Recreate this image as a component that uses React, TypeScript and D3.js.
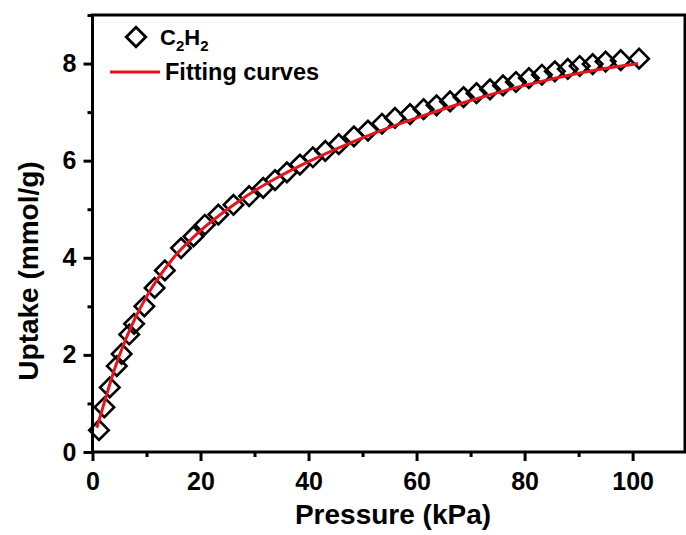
import { useEffect, useRef } from 'react';
import * as d3 from 'd3';

// measured C2H2 uptake points (kPa, mmol/g)
const pressure = [
  1.2, 2.2, 3.2, 4.5, 5.4, 6.8, 7.7, 9.6, 11.5, 13.4, 16.4, 18.7, 20.8, 23.3,
  26.1, 29.0, 31.6, 33.8, 36.0, 38.4, 40.8, 43.1, 45.6, 48.4, 51.0, 53.6, 56.0,
  58.8, 61.3, 63.7, 66.2, 68.7, 71.1, 73.6, 76.0, 78.4, 80.8, 83.2, 85.6, 88.0,
  90.2, 92.6, 95.0, 97.8, 101.2
];
const uptake = [
  0.45, 0.92, 1.33, 1.77, 2.02, 2.42, 2.64, 3.0, 3.38, 3.74, 4.2, 4.44, 4.68, 4.89,
  5.09, 5.27, 5.44, 5.6, 5.76, 5.92, 6.07, 6.2, 6.34, 6.5, 6.62, 6.76, 6.88,
  6.96, 7.06, 7.14, 7.22, 7.31, 7.39, 7.47, 7.55, 7.62, 7.7, 7.77, 7.84, 7.89,
  7.95, 7.99, 8.04, 8.07, 8.1
];

// fitting curve
const fitPressure = [0.8, 2, 4, 6, 8, 10, 15, 20, 25, 30, 35, 40, 50, 60, 70, 80, 90, 101];
const fitUptake = [0.5, 0.95, 1.68, 2.28, 2.78, 3.2, 4.0, 4.56, 5.0, 5.38, 5.7, 5.98, 6.47, 6.88, 7.24, 7.55, 7.8, 8.0];

const xMajor = [0, 20, 40, 60, 80, 100];
const xMinor = [10, 30, 50, 70, 90];
const yMajor = [0, 2, 4, 6, 8];
const yMinor = [1, 3, 5, 7, 9];

const FONT = '"Liberation Sans", Arial, sans-serif';

export default function App() {
  const svgRef = useRef<SVGSVGElement>(null);

  useEffect(() => {
    const svg = d3.select(svgRef.current);
    svg.selectAll('*').remove();

    const width = 686;
    const height = 535;
    const left = 92.5, right = 685, top = 15, bottom = 452;

    const x = d3.scaleLinear().domain([0, 109.7]).range([left, right]);
    const y = d3.scaleLinear().domain([0, 9]).range([bottom, top]);

    svg.attr('width', width).attr('height', height);

    // frame
    svg.append('rect')
      .attr('x', left).attr('y', top)
      .attr('width', right - left).attr('height', bottom - top)
      .attr('fill', 'none').attr('stroke', '#000').attr('stroke-width', 3);

    const styleAxis = (g) => {
      g.select('.domain').remove();
      g.selectAll('line').attr('stroke', '#000').attr('stroke-width', 3);
      g.selectAll('text')
        .attr('fill', '#000')
        .style('font-family', FONT)
        .style('font-weight', 'bold')
        .style('font-size', '25px');
    };

    svg.append('g')
      .attr('transform', `translate(0,${bottom})`)
      .call(d3.axisBottom(x).tickValues(xMajor).tickSize(9).tickPadding(11).tickFormat(d3.format('d')))
      .call(styleAxis);
    svg.append('g')
      .attr('transform', `translate(0,${bottom})`)
      .call(d3.axisBottom(x).tickValues(xMinor).tickSize(5).tickFormat(() => ''))
      .call(styleAxis);

    svg.append('g')
      .attr('transform', `translate(${left},0)`)
      .call(d3.axisLeft(y).tickValues(yMajor).tickSize(9).tickPadding(7).tickFormat(d3.format('d')))
      .call(styleAxis);
    svg.append('g')
      .attr('transform', `translate(${left},0)`)
      .call(d3.axisLeft(y).tickValues(yMinor).tickSize(5).tickFormat(() => ''))
      .call(styleAxis);

    // axis titles
    svg.append('text')
      .attr('x', 393)
      .attr('y', 524)
      .attr('text-anchor', 'middle')
      .style('font-family', FONT).style('font-weight', 'bold').style('font-size', '28px')
      .text('Pressure (kPa)');

    svg.append('text')
      .attr('transform', `translate(38,271) rotate(-90)`)
      .attr('text-anchor', 'middle')
      .style('font-family', FONT).style('font-weight', 'bold').style('font-size', '28px')
      .text('Uptake (mmol/g)');

    const diamond = d3.symbol().type(d3.symbolSquare).size(190);

    // data points
    svg.append('g')
      .selectAll('path')
      .data(pressure.map((p, i) => [p, uptake[i]]))
      .join('path')
      .attr('d', diamond)
      .attr('transform', d => `translate(${x(d[0])},${y(d[1])}) rotate(45)`)
      .attr('fill', 'none')
      .attr('stroke', '#000')
      .attr('stroke-width', 2.6);

    // fitting curve
    const line = d3.line<number[]>()
      .x(d => x(d[0]))
      .y(d => y(d[1]))
      .curve(d3.curveMonotoneX);
    svg.append('path')
      .datum(fitPressure.map((p, i) => [p, fitUptake[i]]))
      .attr('d', line)
      .attr('fill', 'none')
      .attr('stroke', '#e8141c')
      .attr('stroke-width', 3);

    // legend
    const legend = svg.append('g');
    legend.append('path')
      .attr('d', d3.symbol().type(d3.symbolSquare).size(190))
      .attr('transform', 'translate(136,37) rotate(45)')
      .attr('fill', 'none').attr('stroke', '#000').attr('stroke-width', 2.8);
    const lbl = legend.append('text')
      .attr('x', 160).attr('y', 45)
      .style('font-family', FONT).style('font-weight', 'bold').style('font-size', '22px');
    lbl.append('tspan').text('C');
    lbl.append('tspan').attr('dy', 6).style('font-size', '15px').text('2');
    lbl.append('tspan').attr('dy', -6).text('H');
    lbl.append('tspan').attr('dy', 6).style('font-size', '15px').text('2');

    legend.append('line')
      .attr('x1', 110).attr('x2', 160).attr('y1', 72).attr('y2', 72)
      .attr('stroke', '#e8141c').attr('stroke-width', 3);
    legend.append('text')
      .attr('x', 165).attr('y', 80)
      .style('font-family', FONT).style('font-weight', 'bold').style('font-size', '23.5px')
      .text('Fitting curves');
  }, []);

  return (
    <div style={{ position: 'absolute', left: 0, top: 0 }}>
      <svg ref={svgRef}></svg>
    </div>
  );
}
